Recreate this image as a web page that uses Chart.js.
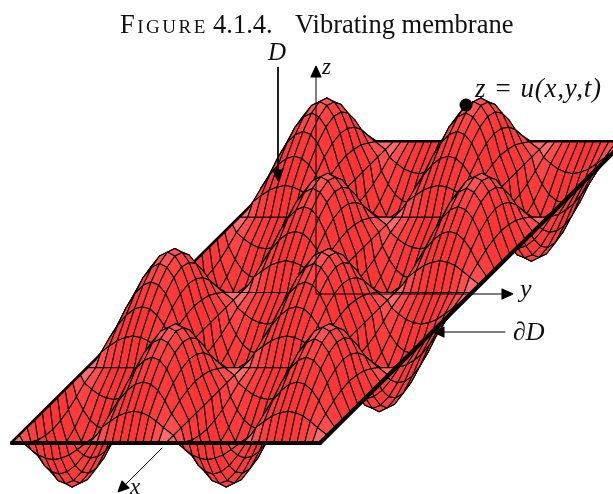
<!DOCTYPE html>
<html>
<head>
<meta charset="utf-8">
<style>
  html, body { margin: 0; padding: 0; background: #fff; }
  #wrap { width: 613px; height: 494px; }
</style>
<script src="https://cdn.jsdelivr.net/npm/chart.js@4/dist/chart.umd.min.js"></script>
</head>
<body>
<div id="wrap"><canvas id="membrane" width="613" height="494"></canvas></div>
<script>
// height of one bump of the membrane (1 = top of a bump)
var bumpHeights = [
  [0, 0,    0,    0,    0,    0,    0,    0,    0,    0],
  [0, 0.10, 0.18, 0.25, 0.29, 0.31, 0.29, 0.25, 0.18, 0.10],
  [0, 0.18, 0.35, 0.48, 0.56, 0.59, 0.56, 0.48, 0.35, 0.18],
  [0, 0.25, 0.48, 0.66, 0.77, 0.81, 0.77, 0.66, 0.48, 0.25],
  [0, 0.29, 0.56, 0.77, 0.90, 0.95, 0.90, 0.77, 0.56, 0.29],
  [0, 0.31, 0.59, 0.81, 0.95, 1.00, 0.95, 0.81, 0.59, 0.31],
  [0, 0.29, 0.56, 0.77, 0.90, 0.95, 0.90, 0.77, 0.56, 0.29],
  [0, 0.25, 0.48, 0.66, 0.77, 0.81, 0.77, 0.66, 0.48, 0.25],
  [0, 0.18, 0.35, 0.48, 0.56, 0.59, 0.56, 0.48, 0.35, 0.18],
  [0, 0.10, 0.18, 0.25, 0.29, 0.31, 0.29, 0.25, 0.18, 0.10]
];
// up or down for each of the 4x4 cells, back row first
var cellSigns = [
  [ 1, -1,  1, -1],
  [-1,  1, -1,  1],
  [ 1, -1,  1, -1],
  [-1,  1, -1,  1]
];
var labels = [
  { text: 'Figure', x: 120, y: 33, font: 'small-caps 26.5px "Liberation Serif"', spacing: '2.5px' },
  { text: '4.1.4.', x: 213, y: 33, font: '26.5px "Liberation Serif"' },
  { text: 'Vibrating membrane', x: 295, y: 33, font: '26.5px "Liberation Serif"' },
  { text: 'D', x: 268, y: 60, font: 'italic 25px "Liberation Serif"' },
  { text: 'z', x: 322, y: 74, font: 'italic 23px "Liberation Serif"' },
  { text: 'z = u(x,y,t)', x: 475, y: 97, font: 'italic 27px "Liberation Serif"', spacing: '0.8px' },
  { text: 'y', x: 520, y: 297, font: 'italic 26px "Liberation Serif"' },
  { text: '\u2202D', x: 513, y: 340, font: 'italic 26px "Liberation Serif"' },
  { text: 'x', x: 130, y: 494, font: 'italic 23px "Liberation Serif"' }
];

// oblique view of the rectangle
var frontLeft = [12, 443], widthPx = 308, depthX = 304, depthY = 301;
var zPx = 78, zLean = 6, zShift = -3;

var stepsX = bumpHeights.length, stepsY = bumpHeights[0].length;
var nRows = cellSigns.length * stepsX, nCols = cellSigns[0].length * stepsY;

function height(m, n) {
  var r = Math.min(Math.floor(m / stepsX), cellSigns.length - 1);
  var c = Math.min(Math.floor(n / stepsY), cellSigns[0].length - 1);
  return cellSigns[r][c] * bumpHeights[m % stepsX][n % stepsY];
}

function project(m, n) {
  var h = height(m, n), back = 1 - m / nRows;
  var edge = (h === 0) ? 0 : zShift;
  return {
    x: frontLeft[0] + widthPx * n / nCols + depthX * back + zLean * h + edge,
    y: frontLeft[1] - depthY * back - zPx * h
  };
}

function shade(m, n) {
  var gx = (height(m, n + 1) + height(m + 1, n + 1) - height(m, n) - height(m + 1, n)) * zPx / 15;
  var gy = (height(m + 1, n) + height(m + 1, n + 1) - height(m, n) - height(m, n + 1)) * zPx / 15;
  var mid = Math.abs(height(m, n) + height(m + 1, n + 1) + height(m + 1, n) + height(m, n + 1)) / 4;
  var flat = 1 / (1 + 0.6 * (gx * gx + gy * gy));
  var v = Math.round(40 + 90 * flat * (1 - 0.4 * mid));
  return 'rgb(255,' + v + ',' + v + ')';
}

function poly(points, fillColor) {
  return {
    data: points, showLine: true, fill: 'shape', backgroundColor: fillColor,
    borderColor: '#000', borderWidth: 1.1, borderJoinStyle: 'round',
    pointRadius: 0, tension: 0
  };
}

function line(points, width) {
  return {
    data: points, showLine: true, fill: false, borderColor: '#000', borderWidth: width,
    borderCapStyle: 'round', pointRadius: 0, tension: 0
  };
}

function pt(x, y) { return { x: x, y: y }; }

var corners = {
  fl: pt(frontLeft[0], frontLeft[1]),
  fr: pt(frontLeft[0] + widthPx, frontLeft[1]),
  bl: pt(frontLeft[0] + depthX, frontLeft[1] - depthY),
  br: pt(frontLeft[0] + widthPx + depthX, frontLeft[1] - depthY)
};

var datasets = [];
// paint order: far edges, surface from the back, near edges, then the annotations
datasets.push(line([corners.bl, corners.br], 4));
datasets.push(line([corners.fl, corners.bl], 4));

for (var m = 0; m < nRows; m++) {
  for (var n = 0; n < nCols; n++) {
    var a = project(m, n), b = project(m, n + 1), c = project(m + 1, n + 1), d = project(m + 1, n);
    datasets.push(poly([a, b, c, d, a], shade(m, n)));
  }
}

datasets.push(line([corners.fl, corners.fr], 4.2));
datasets.push(line([corners.fr, corners.br], 4.2));

// z axis, y axis, x axis stub and the two pointers
datasets.push(line([pt(316, 293), pt(316, 76)], 1));
datasets.push(poly([pt(316, 66), pt(311, 77), pt(321, 77), pt(316, 66)], '#000'));
datasets.push(line([pt(316, 294), pt(502, 294)], 1.2));
datasets.push(poly([pt(513, 294), pt(502, 289), pt(502, 299), pt(513, 294)], '#000'));
datasets.push(line([pt(162, 448), pt(124, 486)], 1));
datasets.push(poly([pt(118, 492), pt(122, 481), pt(129, 488), pt(118, 492)], '#000'));
datasets.push(line([pt(278, 67), pt(278, 172)], 1));
datasets.push(poly([pt(278, 181), pt(273, 170), pt(283, 170), pt(278, 181)], '#000'));
datasets.push(line([pt(505, 332), pt(442, 332)], 1));
datasets.push(poly([pt(433, 332), pt(444, 327), pt(444, 337), pt(433, 332)], '#000'));

// point on the surface
datasets.push({ data: [pt(466, 105)], pointRadius: 6.5, pointBackgroundColor: '#000', pointBorderWidth: 0, showLine: false });

// the library draws index 0 last
datasets.reverse();

var textPlugin = {
  id: 'textLabels',
  afterDatasetsDraw: function (chart) {
    var ctx = chart.ctx;
    ctx.save();
    ctx.fillStyle = '#111';
    ctx.textBaseline = 'alphabetic';
    labels.forEach(function (l) {
      ctx.font = l.font;
      ctx.letterSpacing = l.spacing || '0px';
      ctx.fillText(l.text, l.x, l.y);
    });
    ctx.restore();
  }
};

new Chart(document.getElementById('membrane'), {
  type: 'scatter',
  data: { datasets: datasets },
  plugins: [textPlugin],
  options: {
    responsive: false,
    animation: false,
    events: [],
    layout: { padding: 0, autoPadding: false },
    plugins: { legend: { display: false }, tooltip: { enabled: false } },
    scales: {
      x: { type: 'linear', display: false, min: 0, max: 613 },
      y: { type: 'linear', display: false, min: 0, max: 494, reverse: true }
    }
  }
});
</script>
</body>
</html>
